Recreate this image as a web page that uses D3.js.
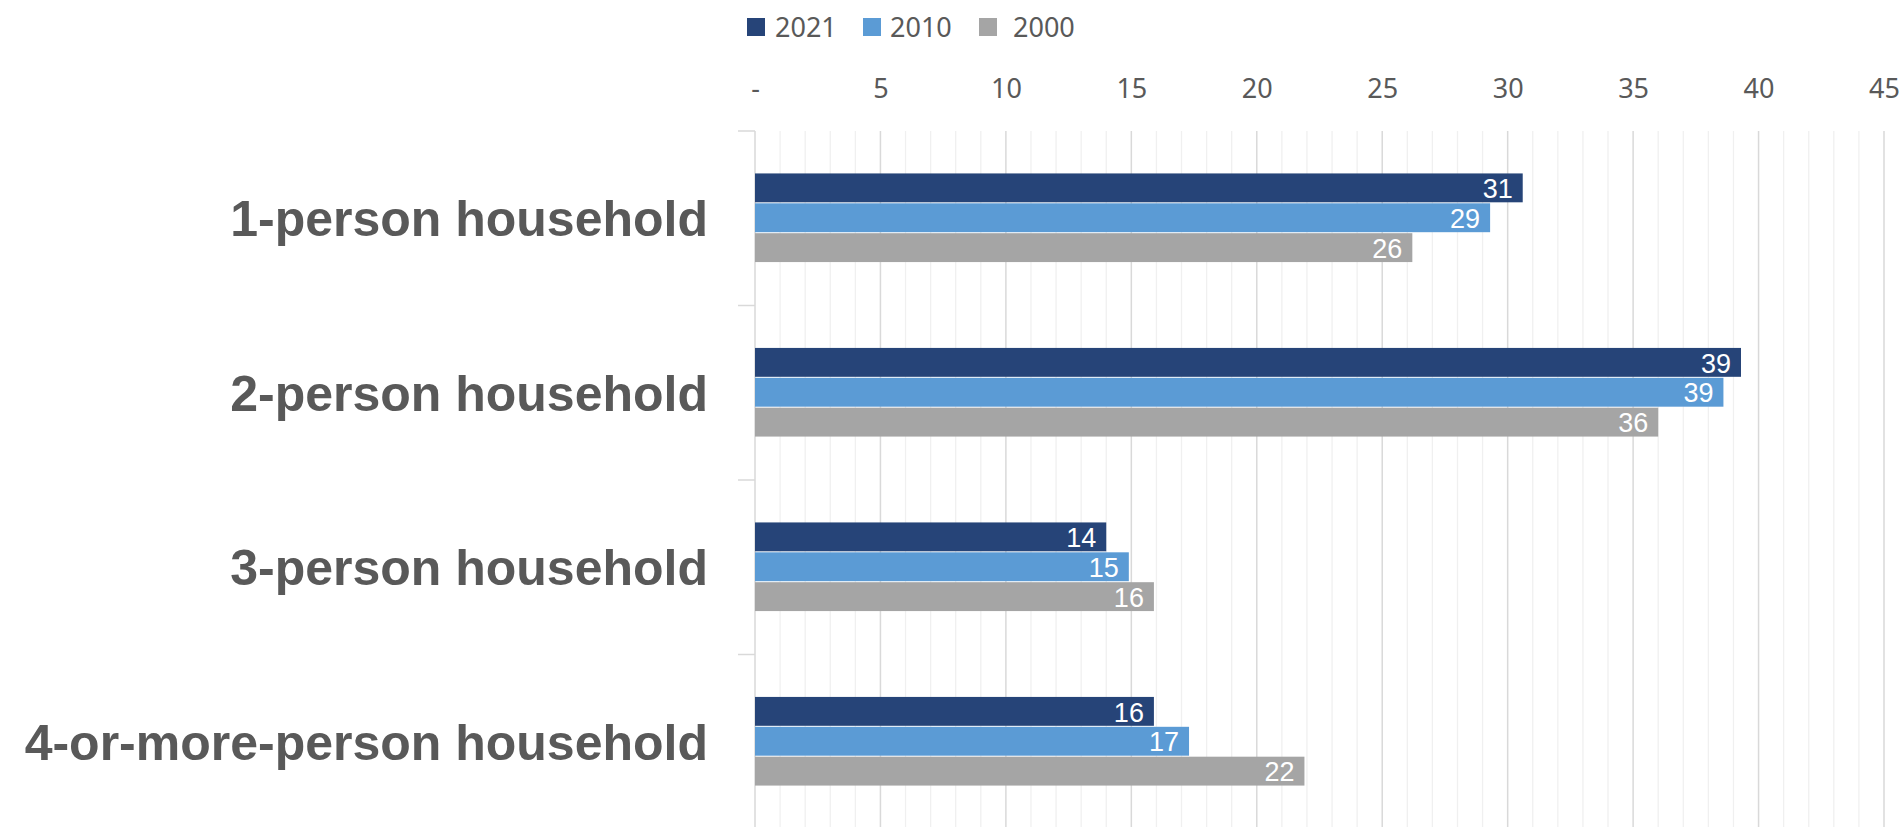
<!DOCTYPE html>
<html>
<head>
<meta charset="utf-8">
<script src="https://cdn.jsdelivr.net/npm/d3@7"></script>
<style>
  body { margin: 0; background: #fff; }
  svg { display: block; }
</style>
</head>
<body>
<div id="chart"></div>
<script>
// household size shares, percent
const categories = ["1-person household", "2-person household", "3-person household", "4-or-more-person household"];
const seriesNames = ["2021", "2010", "2000"];
const values2021 = [30.6, 39.3, 14.0, 15.9];
const values2010 = [29.3, 38.6, 14.9, 17.3];
const values2000 = [26.2, 36.0, 15.9, 21.9];
const tickValues = [0, 5, 10, 15, 20, 25, 30, 35, 40, 45];
const colors = ["#264478", "#5b9bd5", "#a5a5a5"];

const allSeries = [values2021, values2010, values2000];

// page size
const width = 1903, height = 827;
const plot = { left: 755, right: 1884, top: 131, bottom: 829 };

const svg = d3.select("#chart")
    .append("svg")
    .attr("width", width)
    .attr("height", height);

// scales
const x = d3.scaleLinear().domain([0, 45]).range([plot.left, plot.right]);
const y0 = d3.scaleBand().domain(categories).range([plot.top, plot.bottom]);
const y1 = d3.scaleBand().domain(seriesNames).range([0, y0.bandwidth()]).paddingOuter(1.42);

// minor gridlines every 1 unit
svg.append("g")
    .selectAll("line")
    .data(d3.range(1, 46).filter(d => d % 5 !== 0))
    .enter()
    .append("line")
    .attr("x1", d => x(d)).attr("x2", d => x(d))
    .attr("y1", plot.top).attr("y2", height)
    .attr("stroke", "#f0f0f0")
    .attr("stroke-width", 1.3);

// major gridlines
svg.append("g")
    .selectAll("line")
    .data(tickValues.slice(1))
    .enter()
    .append("line")
    .attr("x1", d => x(d)).attr("x2", d => x(d))
    .attr("y1", plot.top).attr("y2", height)
    .attr("stroke", "#d9d9d9")
    .attr("stroke-width", 1.5);

// top axis labels
const xAxis = svg.append("g")
    .attr("transform", "translate(0," + plot.top + ")")
    .call(d3.axisTop(x)
        .tickValues(tickValues)
        .tickSize(0)
        .tickPadding(33)
        .tickFormat(d => d === 0 ? "-" : d));
xAxis.select(".domain").remove();
xAxis.selectAll("text")
    .attr("font-family", "'Noto Sans', 'Open Sans', sans-serif")
    .attr("font-size", 27)
    .attr("fill", "#595959");

// category axis line + ticks at band edges
svg.append("line")
    .attr("x1", plot.left).attr("x2", plot.left)
    .attr("y1", plot.top).attr("y2", height)
    .attr("stroke", "#d9d9d9")
    .attr("stroke-width", 1.5);
svg.append("g")
    .selectAll("line")
    .data(categories)
    .enter()
    .append("line")
    .attr("x1", plot.left - 17).attr("x2", plot.left)
    .attr("y1", d => y0(d)).attr("y2", d => y0(d))
    .attr("stroke", "#d9d9d9")
    .attr("stroke-width", 1.5);

// category labels
svg.append("g")
    .selectAll("text")
    .data(categories)
    .enter()
    .append("text")
    .attr("x", 708)
    .attr("y", d => y0(d) + y0.bandwidth() / 2)
    .attr("dy", "0.36em")
    .attr("text-anchor", "end")
    .attr("font-family", "'Liberation Sans', Arial, sans-serif")
    .attr("font-weight", "bold")
    .attr("font-size", 50)
    .attr("fill", "#595959")
    .text(d => d);

// bars
const groups = svg.append("g")
    .selectAll("g")
    .data(categories)
    .enter()
    .append("g")
    .attr("transform", d => "translate(0," + y0(d) + ")");

const bars = groups.selectAll("g")
    .data((d, i) => seriesNames.map((s, j) => ({ series: s, idx: j, value: allSeries[j][i] })))
    .enter()
    .append("g");

bars.append("rect")
    .attr("x", x(0))
    .attr("y", d => y1(d.series))
    .attr("width", d => x(d.value) - x(0))
    .attr("height", y1.bandwidth() - 1)
    .attr("fill", d => colors[d.idx]);

// data labels inside bar ends
bars.append("text")
    .attr("x", d => x(d.value) - 10)
    .attr("y", d => y1(d.series) + y1.bandwidth() / 2)
    .attr("dy", "0.36em")
    .attr("text-anchor", "end")
    .attr("font-family", "'Liberation Sans Narrow', 'Liberation Sans', sans-serif")
    .attr("font-size", 27)
    .attr("fill", "#ffffff")
    .text(d => Math.round(d.value));

// legend
const legendX = [747, 863, 979];
const legendTextX = [775, 890, 1013];
const legend = svg.append("g")
    .selectAll("g")
    .data(seriesNames)
    .enter()
    .append("g");
legend.append("rect")
    .attr("x", (d, i) => legendX[i])
    .attr("y", 18)
    .attr("width", 18)
    .attr("height", 18)
    .attr("fill", (d, i) => colors[i]);
legend.append("text")
    .attr("x", (d, i) => legendTextX[i])
    .attr("y", 27)
    .attr("dy", "0.36em")
    .attr("font-family", "'Noto Sans', 'Open Sans', sans-serif")
    .attr("font-size", 27)
    .attr("fill", "#595959")
    .text(d => d);
</script>
</body>
</html>
